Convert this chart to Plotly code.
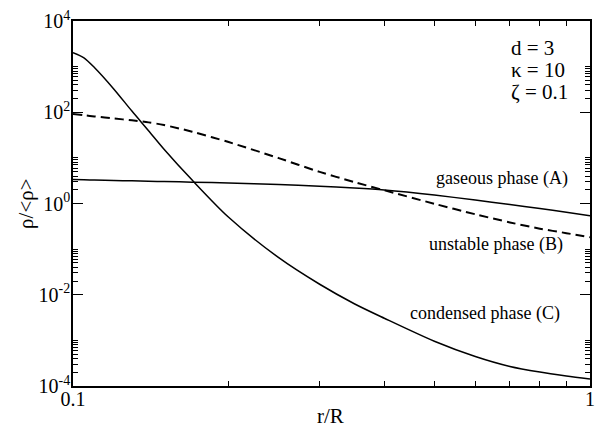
import plotly.graph_objects as go

# r/R sample positions
r_vals = [0.1, 0.105, 0.11, 0.12, 0.13, 0.14, 0.15, 0.17, 0.2, 0.25, 0.3, 0.35, 0.4, 0.5, 0.6, 0.7, 0.8, 0.9, 1.0]

# gaseous phase (A)
rho_A = [3.35, 3.31, 3.27, 3.18, 3.14, 3.07, 3.03, 2.94, 2.81, 2.60, 2.39, 2.18, 1.97, 1.53, 1.19, 0.951, 0.776, 0.643, 0.541]
# unstable phase (B)
rho_B = [91.4, 86.0, 81.0, 73.0, 66.5, 60.0, 52.5, 37.5, 22.2, 9.88, 4.93, 2.95, 1.95, 0.986, 0.581, 0.385, 0.281, 0.224, 0.182]
# condensed phase (C)
rho_C = [2028, 1563, 958, 321, 106, 39.4, 15.5, 3.26, 0.499, 0.0650, 0.0170, 0.00636, 0.00306, 9.57e-4, 4.43e-4, 2.68e-4, 2.02e-4, 1.66e-4, 1.42e-4]

x_major = [0.1, 1]
x_major_text = ["0.1", "1"]
x_minor = [0.2, 0.3, 0.4, 0.5, 0.6, 0.7, 0.8, 0.9]

y_major = [1e-4, 1e-2, 1, 1e2, 1e4]
y_major_text = ["10<sup>-4</sup>", "10<sup>-2</sup>", "10<sup>0</sup>", "10<sup>2</sup>", "10<sup>4</sup>"]
y_minor = [k * 10.0 ** e for e in (-4, -2, 0, 2) for k in range(2, 11)]

params = ["d = 3", "κ = 10", "ζ = 0.1"]
phase_labels = ["gaseous phase (A)", "unstable phase (B)", "condensed phase (C)"]
x_title = "r/R"
y_title = "ρ/<ρ>"

FONT = "Liberation Serif"

fig = go.Figure()
fig.add_trace(go.Scatter(x=r_vals, y=rho_A, mode="lines",
                         line=dict(color="black", width=1.5, shape="spline", smoothing=0.8), showlegend=False))
fig.add_trace(go.Scatter(x=r_vals, y=rho_B, mode="lines",
                         line=dict(color="black", width=2, dash="9px,5px", shape="spline", smoothing=0.8), showlegend=False))
fig.add_trace(go.Scatter(x=r_vals, y=rho_C, mode="lines",
                         line=dict(color="black", width=1.5, shape="spline", smoothing=0.8), showlegend=False))

axis_common = dict(
    type="log", showgrid=False, zeroline=False, showline=True, linecolor="black",
    linewidth=1.5, mirror="allticks", ticks="inside", ticklen=10, tickwidth=1,
    tickcolor="black", tickfont=dict(family=FONT, size=20, color="black"),
)

fig.update_xaxes(
    **axis_common, range=[-1, 0], tickvals=x_major, ticktext=x_major_text, ticklabelstandoff=-6,
    minor=dict(tickvals=x_minor, ticks="inside", ticklen=5, tickcolor="black", tickwidth=1),
)
fig.update_yaxes(
    **axis_common, range=[-4, 4], tickvals=y_major, ticktext=y_major_text, ticklabelstandoff=-3,
    minor=dict(tickvals=y_minor, ticks="inside", ticklen=5, tickcolor="black", tickwidth=1),
)

# axis titles
fig.add_annotation(x=0.499, y=-0.082, xref="paper", yref="paper", text=x_title, showarrow=False,
                   xanchor="center", yanchor="middle", font=dict(family=FONT, size=21, color="black"))
fig.add_annotation(x=-0.092, y=0.5, xref="paper", yref="paper", text=y_title, showarrow=False,
                   textangle=-90, xanchor="center", yanchor="middle", font=dict(family=FONT, size=21, color="black"))

ann_y = [0.925, 0.866, 0.806]
for t, yy in zip(params, ann_y):
    fig.add_annotation(x=0.843, y=yy, xref="paper", yref="paper", text=t, showarrow=False,
                       xanchor="left", yanchor="middle", font=dict(family=FONT, size=21, color="black"))

lab_pos = [(0.8295, 0.568), (0.819, 0.388), (0.797, 0.1995)]
for t, (xx, yy) in zip(phase_labels, lab_pos):
    fig.add_annotation(x=xx, y=yy, xref="paper", yref="paper", text=t, showarrow=False,
                       xanchor="center", yanchor="middle", font=dict(family=FONT, size=18, color="black"))

fig.update_layout(
    width=603, height=428, margin=dict(l=73, r=8, t=20, b=42),
    paper_bgcolor="white", plot_bgcolor="white",
    font=dict(family=FONT, color="black"),
)

fig.write_html("out.html", config={"displayModeBar": False},
               post_script="document.body.style.margin='0';document.body.style.padding='0';")
